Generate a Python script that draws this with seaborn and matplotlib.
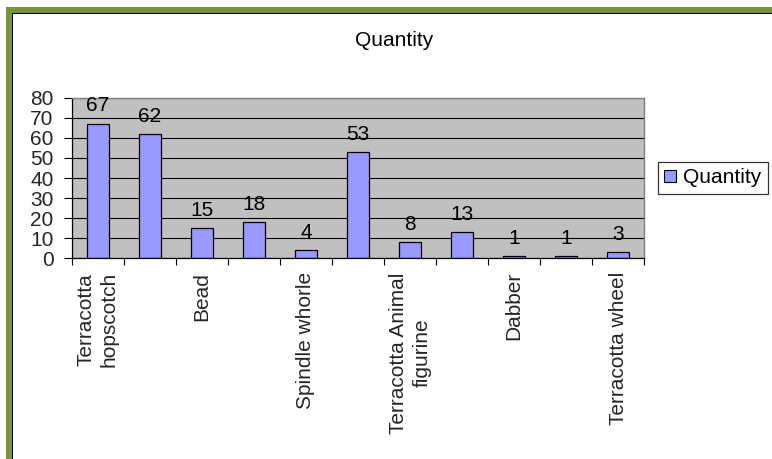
"""
Excel-style bar chart of finds quantity, rebuilt with seaborn.
"""

import numpy as np
import pandas as pd
import matplotlib.pyplot as plt
import matplotlib.patches as mpatches
import seaborn as sns

# ── Data ───────────────────────────────────────────────────────────────────────
# only every other category name is printed on the original axis
item_labels = [
    "Terracotta\nhopscotch", "", "Bead", "", "Spindle whorle", "",
    "Terracotta Animal\nfigurine", "", "Dabber", "", "Terracotta wheel",
]
quantity = [67, 62, 15, 18, 4, 53, 8, 13, 1, 1, 3]
y_ticks = [0, 10, 20, 30, 40, 50, 60, 70, 80]
series_name = "Quantity"

# ── Style ──────────────────────────────────────────────────────────────────────
W, H, DPI = 772, 459, 100
BAR   = "#9999FF"
PLOT  = "#C0C0C0"
GREEN = "#77933C"
FS    = 15

sns.set_style("white")
plt.rcParams["font.family"] = ["Liberation Sans", "DejaVu Sans"]
plt.rcParams["text.color"] = "black"

df = pd.DataFrame({"pos": np.arange(len(quantity)), "qty": quantity})

fig = plt.figure(figsize=(W / DPI, H / DPI), dpi=DPI)
fig.patch.set_facecolor("white")

# plot area in pixel box -> figure fraction
x0, x1, y0, y1 = 71.7, 644.3, 97.7, 258.3
ax = fig.add_axes([x0 / W, 1 - y1 / H, (x1 - x0) / W, (y1 - y0) / H])

sns.barplot(data=df, x="pos", y="qty", color=BAR, saturation=1,
            edgecolor="black", linewidth=0.9, width=0.415, ax=ax)

ax.set_facecolor(PLOT)
ax.set_xlim(-0.5, len(quantity) - 0.5)
ax.set_ylim(0, 80)
ax.set_yticks(y_ticks)
ax.set_yticklabels([str(v) for v in y_ticks], fontsize=FS)
ax.yaxis.grid(True, color="black", lw=0.8)
ax.set_axisbelow(True)

# category names at centres, tick marks at the category boundaries
ax.set_xticks(np.arange(len(quantity)))
ax.set_xticklabels(item_labels, rotation=90, fontsize=FS, va="top",
                   ha="center", linespacing=1.3)
ax.set_xticks(np.arange(-0.5, len(quantity), 1), minor=True)
ax.tick_params(axis="x", which="major", length=0, pad=10)
ax.tick_params(axis="x", which="minor", length=5, width=0.8, color="black",
               direction="out", bottom=True)
ax.tick_params(axis="y", length=6, width=0.8, color="black", direction="out",
               left=True, pad=7)
ax.set_xlabel("")
ax.set_ylabel("")

for side in ("left", "bottom"):
    ax.spines[side].set_color("black")
    ax.spines[side].set_linewidth(0.9)
for side in ("top", "right"):
    ax.spines[side].set_color("#808080")
    ax.spines[side].set_linewidth(1.0)

ax.bar_label(ax.containers[0], padding=6, fontsize=FS)

fig.text(394.5 / W, 1 - 41 / H, series_name, fontsize=FS,
         ha="center", va="center")

handle = mpatches.Patch(facecolor=BAR, edgecolor="black", linewidth=0.8,
                        label=series_name)
leg = fig.legend(handles=[handle], loc="upper left",
                 bbox_to_anchor=(658 / W, 1 - 162 / H), fontsize=FS,
                 frameon=True, fancybox=False, shadow=False,
                 handlelength=0.55, handleheight=0.55, handletextpad=0.35,
                 borderpad=0.3, borderaxespad=0)
leg.get_frame().set_edgecolor("black")
leg.get_frame().set_linewidth(0.9)

# green chart-area border (cut off on right and bottom in the original)
for x, y, w, h, c in [
    (6, 6.7, 6.2, H, GREEN), (6, 6.7, W, 6.0, GREEN),
    (12.2, 12.7, 1.3, H, "black"), (12.2, 12.7, W, 1.3, "black"),
]:
    fig.add_artist(mpatches.Rectangle((x / W, 1 - (y + h) / H), w / W, h / H,
                                      transform=fig.transFigure,
                                      facecolor=c, edgecolor="none"))

fig.savefig("out.png", dpi=DPI)
